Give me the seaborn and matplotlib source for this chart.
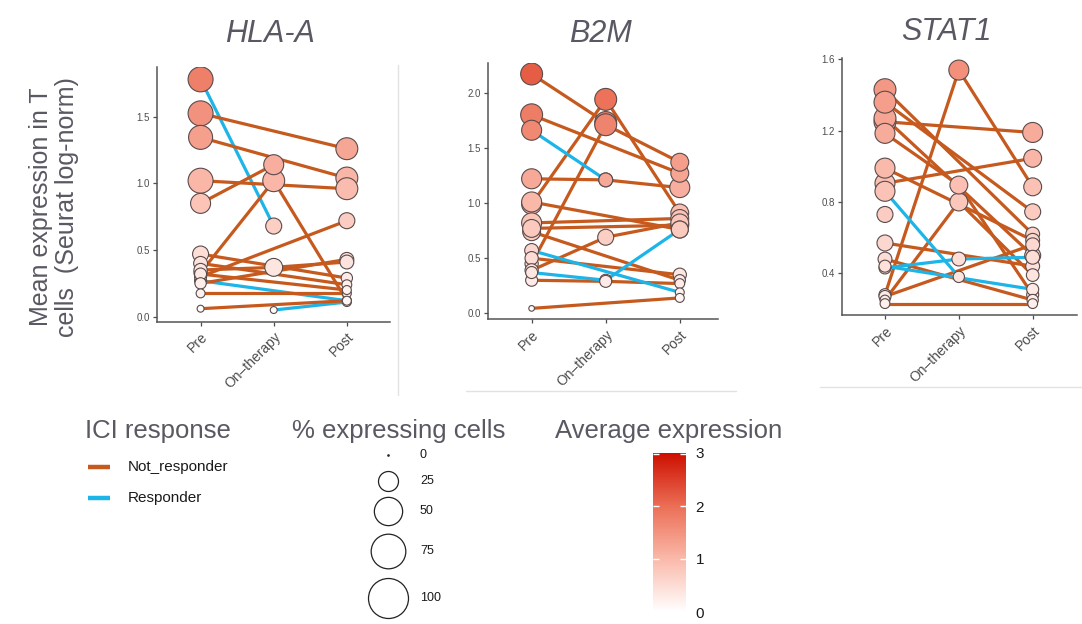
import numpy as np
import pandas as pd
import matplotlib
matplotlib.use('Agg')
import matplotlib.pyplot as plt
import seaborn as sns
from matplotlib.colors import LinearSegmentedColormap, Normalize
from matplotlib.cm import ScalarMappable

nan = np.nan
times = ['Pre', 'On\u2013therapy', 'Post']

# HLA-A: one entry per patient (pre / on-therapy / post)
hla_resp = ['R', 'NR', 'NR', 'NR', 'NR', 'NR', 'NR', 'NR', 'NR', 'NR', 'NR', 'R', 'R', 'NR', 'NR', 'NR']
hla_pre = [1.78, 1.525, 1.345, 1.02, 0.85, 0.33, 0.30, 0.47, 0.35, 0.40, 0.25, 0.27, nan, 0.175, 0.06, 0.32]
hla_on = [0.68, nan, nan, nan, 1.14, 1.02, nan, nan, 0.37, nan, nan, nan, 0.05, nan, nan, nan]
hla_post = [nan, 1.26, 1.04, 0.96, nan, 0.12, 0.72, 0.29, 0.41, 0.24, 0.43, 0.12, 0.11, 0.175, 0.12, 0.20]
hla_pre_pct = [39, 39, 36, 39, 25, 11, 9, 16, 11, 12, 8, 9, nan, 5, 3, 9]
hla_on_pct = [16, nan, nan, nan, 25, 30, nan, nan, 20, nan, nan, nan, 3, nan, nan, nan]
hla_post_pct = [nan, 30, 30, 30, nan, 5, 16, 8, 12, 6, 12, 5, 5, 5, 5, 5]

# B2M
b2m_resp = ['NR', 'NR', 'R', 'NR', 'NR', 'NR', 'NR', 'NR', 'NR', 'NR', 'NR', 'R', 'R', 'NR', 'NR', 'NR']
b2m_pre = [2.17, 1.80, 1.66, 1.22, 0.99, 0.45, 1.01, 0.82, 0.77, 0.74, 0.39, 0.57, 0.37, 0.30, 0.045, 0.50]
b2m_on = [1.73, nan, 1.21, 1.21, 1.94, 1.71, nan, nan, nan, nan, 0.69, nan, 0.30, 0.29, nan, nan]
b2m_post = [nan, 1.27, nan, 1.14, 0.91, 1.37, 0.76, 0.86, 0.80, 0.30, 0.82, 0.19, 0.76, 0.27, 0.14, 0.35]
b2m_pre_pct = [30, 30, 25, 25, 25, 11, 25, 25, 20, 20, 11, 12, 9, 9, 2, 11]
b2m_on_pct = [30, nan, 12, 12, 30, 30, nan, nan, nan, nan, 16, nan, 9, 9, nan, nan]
b2m_post_pct = [nan, 20, nan, 25, 20, 20, 18, 20, 20, 8, 20, 5, 18, 6, 5, 11]

# STAT1
stat_resp = ['NR', 'NR', 'NR', 'NR', 'NR', 'NR', 'NR', 'NR', 'NR', 'R', 'R', 'R', 'NR', 'NR', 'NR', 'NR', 'NR']
stat_pre = [0.28, 1.43, 1.36, 1.185, 1.25, 1.27, 0.905, 0.99, 0.25, 0.86, 0.43, 0.44, 0.57, 0.48, 0.23, 0.73, 0.27]
stat_on = [1.54, nan, nan, 0.895, nan, nan, nan, nan, 0.80, 0.38, 0.48, nan, nan, nan, nan, nan, nan]
stat_post = [0.885, 0.62, 0.745, 0.28, 1.19, 0.50, 1.045, 0.585, 0.39, nan, 0.49, 0.31, 0.44, 0.25, 0.23, nan, 0.56]
stat_pre_pct = [9, 30, 30, 25, 30, 30, 25, 25, 6, 25, 9, 9, 16, 12, 6, 16, 9]
stat_on_pct = [25, nan, nan, 20, nan, nan, nan, nan, 20, 8, 12, nan, nan, nan, nan, nan, nan]
stat_post_pct = [20, 12, 16, 9, 25, 16, 20, 12, 10, nan, 12, 9, 12, 8, 6, nan, 12]

genes = ['HLA-A', 'B2M', 'STAT1']
resp_names = {'NR': 'Not_responder', 'R': 'Responder'}
resp_pal = {'Not_responder': '#C65A1E', 'Responder': '#1DB4E8'}


def long_table(resp, pre, on, post, pre_pct, on_pct, post_pct):
    rows = []
    for i in range(len(resp)):
        for k, (vals, pcts) in enumerate([(pre, pre_pct), (on, on_pct), (post, post_pct)]):
            if not np.isnan(vals[i]):
                rows.append(dict(patient=i, response=resp_names[resp[i]], x=k,
                                 expr=vals[i], pct=pcts[i]))
    return pd.DataFrame(rows)


tables = [
    long_table(hla_resp, hla_pre, hla_on, hla_post, hla_pre_pct, hla_on_pct, hla_post_pct),
    long_table(b2m_resp, b2m_pre, b2m_on, b2m_post, b2m_pre_pct, b2m_on_pct, b2m_post_pct),
    long_table(stat_resp, stat_pre, stat_on, stat_post, stat_pre_pct, stat_on_pct, stat_post_pct),
]

sns.set_style('white')
plt.rcParams['font.family'] = ['Liberation Sans', 'DejaVu Sans']

cmap = LinearSegmentedColormap.from_list(
    'avg', [(0, '#FFFFFF'), (1 / 3, '#FAB9AA'), (2 / 3, '#EB6E55'), (1, '#CD0F00')])
norm = Normalize(0, 3)

W, H = 1082, 624
fig = plt.figure(figsize=(W / 100, H / 100), dpi=100)

# overlay in pixel units for legend keys and frame edges
lg = fig.add_axes([0, 0, 1, 1])
lg.set_xlim(0, W)
lg.set_ylim(H, 0)
lg.axis('off')
lg.patch.set_visible(False)
lg.plot([398, 398], [65, 395], color='#e2e2e2', lw=1)
lg.plot([466, 736], [391, 391], color='#e2e2e2', lw=1)
lg.plot([820, 1082], [387, 387], color='#e2e2e2', lw=1)

# panel boxes (pixels: left, right, top, bottom) and limits
boxes = [(156.7, 390, 66.7, 321.7), (487.7, 718.3, 63.3, 319.3), (841.7, 1076.7, 58.3, 315.3)]
xlims = [(-0.6, 2.59), (-0.593, 2.52), (-0.586, 2.596)]
ylims = [(-0.0375, 1.875), (-0.054, 2.267), (0.1644, 1.606)]
yticks = [[0, 0.5, 1.0, 1.5], [0, 0.5, 1.0, 1.5, 2.0], [0.4, 0.8, 1.2, 1.6]]
title_pos = [(270, 34), (600, 34), (946, 32)]
grey = '#555555'
txt = '#5a5862'

for g, df, (l, r, t, b), xl, yl, yt, tp in zip(genes, tables, boxes, xlims, ylims, yticks, title_pos):
    ax = fig.add_axes([l / W, 1 - b / H, (r - l) / W, (b - t) / H])
    ax.patch.set_alpha(0)
    sns.lineplot(data=df, x='x', y='expr', units='patient', estimator=None,
                 hue='response', palette=resp_pal, lw=2.3, ax=ax, legend=False, zorder=1)
    sns.scatterplot(data=df.sort_values('pct', ascending=False), x='x', y='expr',
                    hue='expr', palette=cmap, hue_norm=(0, 3),
                    size='pct', sizes=(0, 829), size_norm=(0, 100),
                    edgecolor='#5b4b4b', linewidth=0.8, alpha=1, ax=ax, legend=False, zorder=3)
    ax.set_xlim(*xl)
    ax.set_ylim(*yl)
    ax.set_xticks([0, 1, 2])
    ax.set_xticklabels(times, rotation=45, ha='right', rotation_mode='anchor')
    ax.set_yticks(yt)
    ax.set_yticklabels(['%.1f' % v for v in yt])
    ax.set_xlabel('')
    ax.set_ylabel('')
    for s in ['top', 'right']:
        ax.spines[s].set_visible(False)
    for s in ['left', 'bottom']:
        ax.spines[s].set_color(grey)
        ax.spines[s].set_linewidth(1.1)
    ax.tick_params(axis='y', labelsize=7, colors='#4d4d4d', length=3, width=0.9, pad=2,
                   left=True)
    ax.tick_params(axis='x', labelsize=10, colors='#4d4d4d', length=3, width=0.9, pad=3,
                   bottom=True)
    fig.text(tp[0] / W, 1 - tp[1] / H, g, style='italic', fontsize=22, color=txt,
             ha='center', va='center')

fig.text(54 / W, 1 - 207 / H, 'Mean expression in T\ncells  (Seurat log-norm)',
         rotation=90, fontsize=18, color=txt, ha='center', va='center', linespacing=1.1)

# legend: ICI response
fig.text(85 / W, 1 - 431 / H, 'ICI response', fontsize=18.5, color=txt, va='center')
for y, name in [(467, 'Not_responder'), (498, 'Responder')]:
    lg.plot([88, 110], [y, y], color=resp_pal[name], lw=3.2, solid_capstyle='butt')
    lg.text(128, y, name, fontsize=11, color='#1a1a1a', va='center')

# legend: % expressing cells
fig.text(292 / W, 1 - 431 / H, '% expressing cells', fontsize=18.5, color=txt, va='center')
for y, p in zip([455, 481, 511, 551, 598], [0, 25, 50, 75, 100]):
    lg.scatter([388], [y], s=[max(8.29 * p, 1)], facecolor='white', edgecolor='#222222',
               linewidth=0.9)
    lg.text(420, y, str(p), fontsize=9, color='#1a1a1a', va='center')

# legend: average expression
fig.text(555 / W, 1 - 431 / H, 'Average expression', fontsize=18.5, color=txt, va='center')
cax = fig.add_axes([653 / W, 1 - 612 / H, 33 / W, 159 / H])
cb = fig.colorbar(ScalarMappable(norm=norm, cmap=cmap), cax=cax, ticks=[0, 1, 2, 3])
cb.outline.set_visible(False)
cax.tick_params(length=0, labelsize=11, pad=7, colors='#1a1a1a')
cax.hlines([1, 2, 2.985], 0, 0.18, colors='white', lw=1)
cax.hlines([1, 2, 2.985], 0.82, 1, colors='white', lw=1)

fig.savefig('out.png', dpi=100, facecolor='white')
